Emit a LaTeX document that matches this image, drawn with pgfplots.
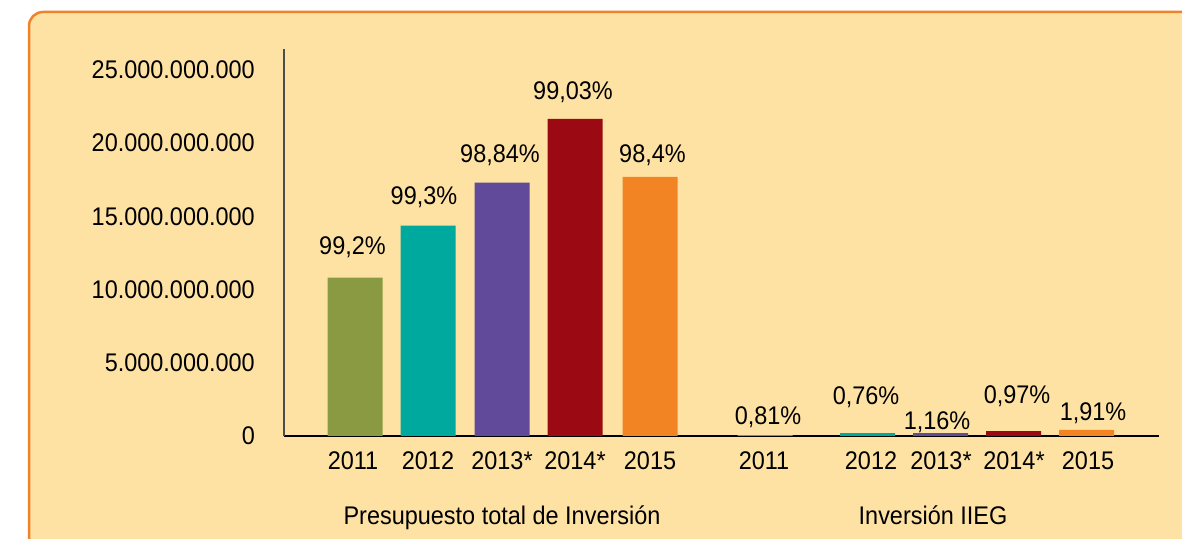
\documentclass[border=0pt]{standalone}
\usepackage{pgfplots}
\pgfplotsset{compat=1.18}
\usepackage{fontspec}
\setmainfont{Liberation Sans}[FakeStretch=0.92]
\definecolor{bgc}{HTML}{FEE2A4}
\definecolor{bordc}{HTML}{F0832A}
\definecolor{colA}{HTML}{8A9A43}
\definecolor{colB}{HTML}{00A99D}
\definecolor{colC}{HTML}{624A9B}
\definecolor{colD}{HTML}{9B0A12}
\definecolor{colE}{HTML}{F38424}
\newcommand{\lfont}{\fontsize{25.5bp}{30bp}\selectfont}
\begin{document}
\begin{tikzpicture}
\path[use as bounding box] (0,0) rectangle (1182bp,539bp);
\begin{scope}
\clip (0,0) rectangle (1182bp,539bp);
\fill[white] (0,0) rectangle (1182bp,539bp);
\draw[draw=bordc, line width=2.5bp, fill=bgc, rounded corners=14bp] (29bp,-40bp) rectangle (1230bp,527bp);
\end{scope}
\begin{axis}[
  at={(284bp,103bp)}, anchor=south west,
  scale only axis, width=875bp, height=387bp,
  xmin=284, xmax=1159, ymin=0, ymax=26430000000,
  axis x line*=bottom, axis y line*=left,
  x axis line style={-, black, line width=1.2bp},
  y axis line style={-, black!70, line width=1.2bp},
  major tick length=0pt,
  scaled y ticks=false,
  ytick={0,5000000000,10000000000,15000000000,20000000000,25000000000},
  yticklabels={0,5.000.000.000,10.000.000.000,15.000.000.000,20.000.000.000,25.000.000.000},
  yticklabel style={anchor=east, inner sep=0pt, xshift=-29bp, font=\lfont},
  xtick={353,428,502,575,650,764,871,941,1014,1088},
  xticklabels={2011,2012,2013*,2014*,2015,2011,2012,2013*,2014*,2015},
  xticklabel style={anchor=base, inner sep=0pt, yshift=-34bp, font=\lfont},
  clip=false,
]
\addplot[ybar, bar width=55, bar shift=0pt, fill=colA, draw=none] coordinates {(355,10810000000) (765,60000000)};
\addplot[ybar, bar width=55, bar shift=0pt, fill=colB, draw=none] coordinates {(428,14360000000) (867.5,200000000)};
\addplot[ybar, bar width=55, bar shift=0pt, fill=colC, draw=none] coordinates {(502,17300000000) (940.5,200000000)};
\addplot[ybar, bar width=55, bar shift=0pt, fill=colD, draw=none] coordinates {(575,21650000000) (1013.5,340000000)};
\addplot[ybar, bar width=55, bar shift=0pt, fill=colE, draw=none] coordinates {(650,17690000000) (1086.5,410000000)};
\addplot[draw=none, mark=none, nodes near coords, point meta=explicit symbolic,
  every node near coord/.append style={anchor=center, inner sep=0pt, font=\lfont, text=black}]
  coordinates {
  (352.5,12880000000) [99,2\%]
  (424,16290000000) [99,3\%]
  (500,19190000000) [98,84\%]
  (573,23500000000) [99,03\%]
  (652.5,19190000000) [98,4\%]
  (768,1300000000) [0,81\%]
  (866,2660000000) [0,76\%]
  (937,960000000) [1,16\%]
  (1017,2730000000) [0,97\%]
  (1093,1570000000) [1,91\%]
  };
\end{axis}
\node[anchor=base, font=\lfont, inner sep=0pt] at (502bp,15bp) {Presupuesto total de Inversión};
\node[anchor=base, font=\lfont, inner sep=0pt] at (933bp,15bp) {Inversión IIEG};
\end{tikzpicture}
\end{document}
